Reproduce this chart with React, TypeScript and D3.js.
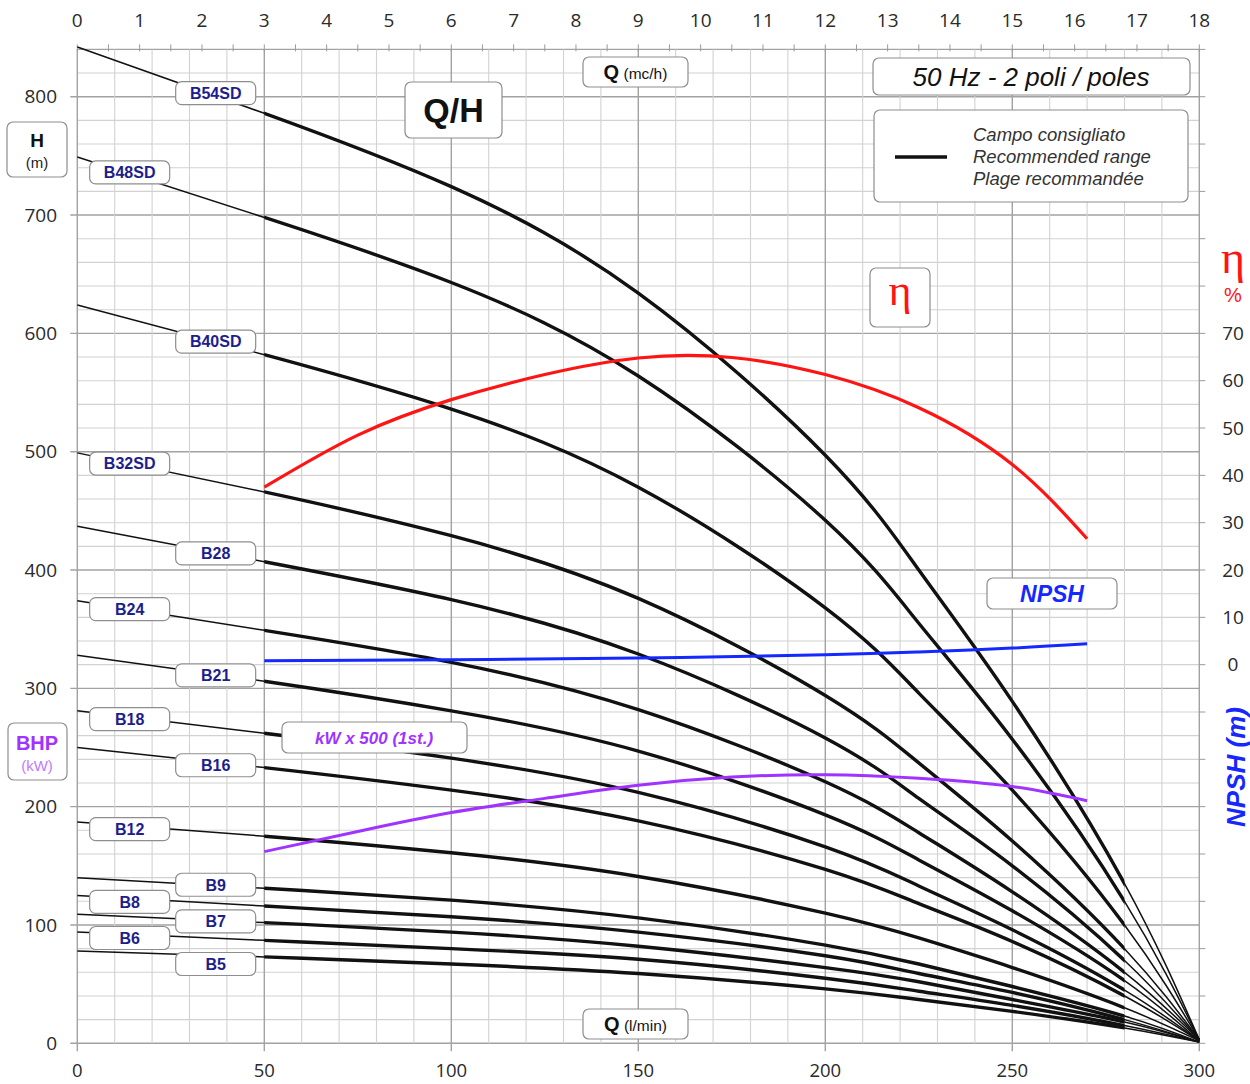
import * as d3 from "d3";
import React from "react";

// portata (l/min) dove sono letti i punti delle curve Q/H
const qPoints = [0, 50, 100, 150, 200, 225, 250, 280, 300];

const headB54SD = [842, 786, 724, 634, 497, 400, 289, 135, 3];
const headB48SD = [749, 698, 643, 564, 442, 355, 257, 120, 3];
const headB40SD = [624, 582, 536, 470, 368, 296, 214, 100, 3];
const headB32SD = [499, 466, 429, 376, 294, 237, 171, 80, 3];
const headB28 = [437, 407, 375, 329, 258, 207, 150, 70, 3];
const headB24 = [374, 349, 322, 282, 221, 178, 128, 60, 3];
const headB21 = [328, 306, 281, 247, 193, 155, 112, 53, 2];
const headB18 = [281, 262, 241, 212, 166, 133, 96, 45, 2];
const headB16 = [250, 233, 214, 188, 147, 118, 86, 40, 2];
const headB12 = [187, 175, 161, 141, 110, 89, 64, 30, 2];
const headB9 = [140, 131, 121, 106, 83, 67, 48, 23, 1];
const headB8 = [125, 116, 107, 94, 74, 59, 43, 20, 1];
const headB7 = [109, 102, 94, 82, 64, 52, 37, 18, 1];
const headB6 = [94, 87, 80, 71, 55, 44, 32, 15, 1];
const headB5 = [78, 73, 67, 59, 46, 37, 27, 13, 1];

const modelNames = ["B54SD", "B48SD", "B40SD", "B32SD", "B28", "B24", "B21", "B18", "B16", "B12", "B9", "B8", "B7", "B6", "B5"];
const modelHeads = [headB54SD, headB48SD, headB40SD, headB32SD, headB28, headB24, headB21, headB18, headB16, headB12, headB9, headB8, headB7, headB6, headB5];
// dove stanno le etichette (Q l/min, H m)
const labelQ = [37, 14, 37, 14, 37, 14, 37, 14, 37, 14, 37, 14, 37, 14, 37];
const labelH = [803, 736, 593, 490, 414, 367, 311, 274, 235, 181, 134, 119.5, 103, 89, 67];

// campo consigliato
const recommended = [50, 280];

// rendimento %
const effQ = [50, 75, 100, 125, 150, 175, 200, 225, 250, 270];
const effPct = [37.5, 48.5, 56, 61.3, 64.8, 64.9, 61.3, 54.3, 42.3, 26.6];

// NPSH (m)
const npshQ = [50, 100, 150, 200, 225, 250, 270];
const npshM = [0.85, 1.05, 1.4, 2.1, 2.7, 3.5, 4.4];

// potenza 1 stadio (kW), disegnata x 500 sulla scala H
const bhpQ = [50, 75, 100, 125, 150, 175, 200, 225, 250, 270];
const bhpKw = [0.324, 0.358, 0.39, 0.414, 0.436, 0.45, 0.454, 0.448, 0.434, 0.41];
const bhpFactor = 500;

const qTicks = [0, 50, 100, 150, 200, 250, 300];
const hTicks = [0, 100, 200, 300, 400, 500, 600, 700, 800];
const mcTicks = d3.range(0, 19, 1);
const etaTicks = [0, 10, 20, 30, 40, 50, 60, 70];

const RED = "#ff1414";
const BLUE = "#1428ff";
const PURPLE = "#a033ff";
const NAVY = "#1d1d8c";
const numFont = "'Open Sans', sans-serif";
const boxFont = "'Liberation Sans', Arial, sans-serif";

const Box = ({ x, y, w, h }: { x: number; y: number; w: number; h: number }) => (
  <rect x={x} y={y} width={w} height={h} rx={6} fill="#fff" stroke="#8e8e8e" strokeWidth={1.2} />
);

const App = () => {
  const x = d3.scaleLinear().domain([0, 300]).range([77.3, 1199.3]);
  const y = d3.scaleLinear().domain([0, 840]).range([1043.3, 49.4]);
  const mc = d3.scaleLinear().domain([0, 18]).range(x.range());
  const eta = d3.scaleLinear().domain([-80, 130]).range(y.range());

  const [x0, x1] = x.range();
  const [yB, yT] = y.range();

  const headLine = d3
    .line<[number, number]>()
    .x((d) => x(d[0]))
    .y((d) => y(d[1]))
    .curve(d3.curveNatural);

  const etaLine = d3
    .line<[number, number]>()
    .x((d) => x(d[0]))
    .y((d) => eta(d[1]))
    .curve(d3.curveNatural);

  const effPath = etaLine(effQ.map((q, i) => [q, effPct[i]]));
  const npshPath = etaLine(npshQ.map((q, i) => [q, npshM[i]]));
  const bhpPath = headLine(bhpQ.map((q, i) => [q, bhpKw[i] * bhpFactor]));

  const vGrid = d3.range(0, 301, 10);
  const hGrid = d3.range(0, 841, 20);
  const mcMinor = d3.range(0, 18.01, 0.5);
  const etaMinor = d3.range(-80, 131, 10);

  return (
    <svg width={1250} height={1084} style={{ position: "absolute", left: 0, top: 0, background: "#fff" }}>
      <defs>
        <clipPath id="rec">
          <rect x={x(recommended[0])} y={0} width={x(recommended[1]) - x(recommended[0])} height={1084} />
        </clipPath>
      </defs>

      {/* griglia */}
      {hGrid.map((h) => (
        <line
          key={"h" + h}
          x1={h % 100 === 0 ? x0 - 7 : x0}
          x2={x1}
          y1={y(h)}
          y2={y(h)}
          stroke={h % 100 === 0 || h === 840 ? "#a2a2a2" : "#d2d2d2"}
          strokeWidth={h % 100 === 0 || h === 840 ? 1.4 : 1.1}
        />
      ))}
      {vGrid.map((q) => (
        <line
          key={"v" + q}
          x1={x(q)}
          x2={x(q)}
          y1={yT}
          y2={q % 50 === 0 ? yB + 8 : yB}
          stroke={q % 50 === 0 ? "#a2a2a2" : "#d2d2d2"}
          strokeWidth={q % 50 === 0 ? 1.4 : 1.1}
        />
      ))}
      {mcMinor.map((m) => (
        <line key={"m" + m} x1={mc(m)} x2={mc(m)} y1={yT - 5} y2={yT + 2} stroke="#9a9a9a" strokeWidth={1} />
      ))}
      {etaMinor.map((e) => (
        <line key={"e" + e} x1={x1} x2={x1 + 6} y1={eta(e)} y2={eta(e)} stroke="#9a9a9a" strokeWidth={1} />
      ))}

      {/* testi assi */}
      <g fontFamily={numFont} fontSize={19} fill="#2a2a2a">
        {hTicks.map((h) => (
          <text key={"ht" + h} x={57} y={y(h)} dy="0.35em" textAnchor="end">
            {h}
          </text>
        ))}
        {qTicks.map((q) => (
          <text key={"qt" + q} x={x(q)} y={1077} textAnchor="middle" fontSize={18.5}>
            {q}
          </text>
        ))}
        {mcTicks.map((m) => (
          <text key={"mt" + m} x={mc(m)} y={27} textAnchor="middle">
            {m}
          </text>
        ))}
        {etaTicks.map((e) => (
          <text key={"et" + e} x={1233} y={eta(e)} dy="0.35em" textAnchor="middle">
            {e}
          </text>
        ))}
      </g>

      {/* curve Q/H */}
      {modelHeads.map((heads, i) => {
        const d = headLine(qPoints.map((q, j) => [q, heads[j]])) || undefined;
        return (
          <g key={modelNames[i]}>
            <path d={d} fill="none" stroke="#111" strokeWidth={1.5} />
            <path d={d} fill="none" stroke="#111" strokeWidth={3.4} clipPath="url(#rec)" />
          </g>
        );
      })}

      <path d={bhpPath || undefined} fill="none" stroke={PURPLE} strokeWidth={3} />
      <path d={npshPath || undefined} fill="none" stroke={BLUE} strokeWidth={3} />
      <path d={effPath || undefined} fill="none" stroke={RED} strokeWidth={3.2} />

      {/* etichette modelli */}
      {modelNames.map((name, i) => {
        const cx = x(labelQ[i]);
        const cy = y(labelH[i]);
        return (
          <g key={"l" + name}>
            <Box x={cx - 40} y={cy - 11.5} w={80} h={23} />
            <text x={cx} y={cy} dy="0.36em" textAnchor="middle" fontFamily={boxFont} fontWeight="bold" fontSize={16} fill={NAVY}>
              {name}
            </text>
          </g>
        );
      })}

      {/* riquadri */}
      <g fontFamily={boxFont}>
        <Box x={7} y={122} w={60} h={55} />
        <text x={37} y={147} textAnchor="middle" fontWeight="bold" fontSize={19} fill="#111">H</text>
        <text x={37} y={168} textAnchor="middle" fontSize={15} fill="#222">(m)</text>

        <Box x={8} y={723} w={59} h={57} />
        <text x={37} y={750} textAnchor="middle" fontWeight="bold" fontSize={20} fill={PURPLE}>BHP</text>
        <text x={37} y={771} textAnchor="middle" fontSize={15} fill="#c27aff">(kW)</text>

        <Box x={405} y={82} w={97} h={56} />
        <text x={453.5} y={122} textAnchor="middle" fontWeight="bold" fontSize={34} fill="#111">Q/H</text>

        <Box x={583} y={57} w={105} h={30} />
        <text x={635.5} y={79} textAnchor="middle" fill="#111">
          <tspan fontWeight="bold" fontSize={20}>Q</tspan>
          <tspan fontSize={15.5}> (mc/h)</tspan>
        </text>

        <Box x={583} y={1009} w={105} h={30} />
        <text x={635.5} y={1031} textAnchor="middle" fill="#111">
          <tspan fontWeight="bold" fontSize={20}>Q</tspan>
          <tspan fontSize={15.5}> (l/min)</tspan>
        </text>

        <Box x={873} y={58} w={317} h={37} />
        <text x={1031} y={86} textAnchor="middle" fontStyle="italic" fontSize={26} fill="#111">50 Hz - 2 poli / poles</text>

        <Box x={874} y={110} w={314} h={92} />
        <line x1={895} x2={947} y1={157} y2={157} stroke="#111" strokeWidth={3.5} />
        <g fontStyle="italic" fontSize={18.5} fill="#333">
          <text x={973} y={141}>Campo consigliato</text>
          <text x={973} y={163}>Recommended range</text>
          <text x={973} y={185}>Plage recommandée</text>
        </g>

        <Box x={870} y={268} w={60} h={59} />
        <text x={900} y={305} textAnchor="middle" fontFamily="'Liberation Serif', serif" fontSize={44} fill={RED}>η</text>

        <Box x={987} y={578} w={130} h={31} />
        <text x={1052} y={602} textAnchor="middle" fontWeight="bold" fontStyle="italic" fontSize={23} fill={BLUE}>NPSH</text>

        <Box x={282} y={722} w={185} h={31} />
        <text x={374} y={744} textAnchor="middle" fontWeight="bold" fontStyle="italic" fontSize={17} fill={PURPLE}>kW x 500 (1st.)</text>

        <text x={1233} y={273} textAnchor="middle" fontFamily="'Liberation Serif', serif" fontSize={46} fill={RED}>η</text>
        <text x={1233} y={302} textAnchor="middle" fontSize={20} fill={RED}>%</text>

        <text
          transform="translate(1245, 767) rotate(-90)"
          textAnchor="middle"
          fontWeight="bold"
          fontStyle="italic"
          fontSize={26}
          fill={BLUE}
        >
          NPSH (m)
        </text>
      </g>
    </svg>
  );
};

export default App;
